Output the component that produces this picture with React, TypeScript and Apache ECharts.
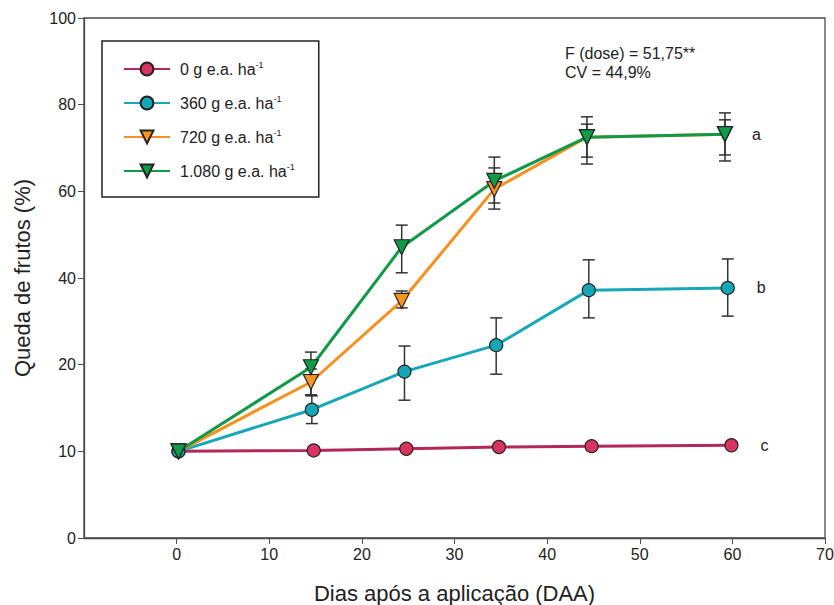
import React, { useEffect, useRef } from "react";
import * as echarts from "echarts";

// Y axis is broken: equally spaced ticks carrying these labels
const yTickLabels = [0, 10, 20, 40, 60, 80, 100];
const xTickValues = [0, 10, 20, 30, 40, 50, 60, 70];

const seriesNames = ["0 g e.a. ha-1", "360 g e.a. ha-1", "720 g e.a. ha-1", "1.080 g e.a. ha-1"];

// days after application (slightly offset per series as in the figure)
const days0 = [0.2, 14.8, 24.8, 34.8, 44.8, 59.9];
const days360 = [0.2, 14.6, 24.6, 34.5, 44.5, 59.5];
const days720 = [0.2, 14.5, 24.3, 34.3, 44.3, 59.2];
const days1080 = [0.2, 14.5, 24.3, 34.3, 44.3, 59.2];

// fruit drop (%)
const drop0 = [10.0, 10.1, 10.3, 10.5, 10.6, 10.7];
const drop360 = [10.0, 14.8, 19.2, 24.5, 37.2, 37.7];
const drop720 = [10.0, 18.0, 34.7, 60.5, 72.5, 73.2];
const drop1080 = [10.0, 19.7, 47.1, 62.4, 72.5, 73.2];

// error bar bounds (%)
const low360 = [10.0, 13.2, 15.9, 18.9, 30.8, 31.2];
const high360 = [10.0, 16.4, 24.3, 30.8, 44.2, 44.4];
const low720 = [10.0, 16.5, 33.1, 55.9, 67.9, 68.4];
const high720 = [10.0, 19.5, 37.0, 65.4, 75.5, 76.5];
const low1080 = [10.0, 16.5, 41.2, 57.3, 66.3, 67.0];
const high1080 = [10.0, 22.9, 52.2, 67.9, 77.2, 78.1];

const groupLetters = ["c", "b", "a"];

// map a percentage to the broken-axis position (piecewise linear between tick labels)
function toAxis(v: number): number {
  for (let i = 0; i < yTickLabels.length - 1; i++) {
    const a = yTickLabels[i];
    const b = yTickLabels[i + 1];
    if (v <= b || i === yTickLabels.length - 2) {
      return i + (v - a) / (b - a);
    }
  }
  return 0;
}

const FONT = "'Liberation Sans', Arial, Helvetica, sans-serif";
const INK = "#222";
const AXIS = "#4a4a4a";

export default function App() {
  const ref = useRef<HTMLDivElement>(null);

  useEffect(() => {
    document.body.style.margin = "0";
    if (!ref.current) return;
    const chart = echarts.init(ref.current, undefined, { renderer: "svg" });

    const mkLine = (
      name: string,
      days: number[],
      vals: number[],
      lineColor: string,
      fill: string,
      symbol: string,
      rotate: number,
      size: number,
      letter: string | null,
      letterGap: number
    ) => ({
      type: "line",
      name,
      data: days.map((d, i) => {
        const item: any = { value: [d, toAxis(vals[i])] };
        if (letter && i === days.length - 1) {
          item.label = {
            show: true,
            formatter: letter,
            position: "right",
            distance: letterGap,
            color: INK,
            fontSize: 16,
            fontFamily: FONT,
          };
        }
        return item;
      }),
      symbol,
      symbolRotate: rotate,
      symbolSize: size,
      lineStyle: { color: lineColor, width: 3 },
      itemStyle: { color: fill, borderColor: "#222", borderWidth: 1.2 },
      z: 3,
    });

    const errData: number[][] = [];
    const addErr = (days: number[], lo: number[], hi: number[]) => {
      days.forEach((d, i) => {
        if (hi[i] > lo[i]) errData.push([d, toAxis(lo[i]), toAxis(hi[i])]);
      });
    };
    addErr(days360, low360, high360);
    addErr(days720, low720, high720);
    addErr(days1080, low1080, high1080);

    const option: any = {
      animation: false,
      textStyle: { fontFamily: FONT },
      grid: {
        left: 84,
        top: 18,
        right: 9,
        bottom: 67,
        outerBoundsMode: "none",
        containLabel: false,
        show: true,
        borderColor: AXIS,
        borderWidth: 1.3,
      },
      legend: {
        orient: "vertical",
        left: 102,
        top: 41,
        padding: [19, 24, 18, 21],
        itemGap: 17,
        itemWidth: 46,
        itemHeight: 16,
        borderColor: INK,
        borderWidth: 1.5,
        data: seriesNames,
        formatter: (name: string) => `{t|${name.replace("-1", "")}}{s|-1}`,
        textStyle: {
          rich: {
            t: { fontSize: 16, fontFamily: FONT, color: INK, padding: [0, 0, 0, 5], lineHeight: 18 },
            s: { fontSize: 9, fontFamily: FONT, color: INK, verticalAlign: "top", lineHeight: 10 },
          },
        },
      },
      xAxis: {
        type: "value",
        min: -10,
        max: 70,
        interval: 10,
        name: "Dias após a aplicação (DAA)",
        nameLocation: "middle",
        nameGap: 44,
        nameTextStyle: { fontSize: 22, color: INK, fontFamily: FONT },
        axisLine: { show: true, onZero: false, lineStyle: { color: AXIS, width: 1.3 } },
        axisTick: { show: true, customValues: xTickValues, length: 6, lineStyle: { color: AXIS } },
        axisLabel: { customValues: xTickValues, fontSize: 16, color: INK, margin: 8, fontFamily: FONT },
        splitLine: { show: false },
      },
      yAxis: {
        type: "value",
        min: 0,
        max: yTickLabels.length - 1,
        interval: 1,
        name: "Queda de frutos (%)",
        nameLocation: "middle",
        nameGap: 51,
        nameTextStyle: { fontSize: 22, color: INK, fontFamily: FONT },
        axisLine: { show: true, onZero: false, lineStyle: { color: AXIS, width: 1.3 } },
        axisTick: { show: true, length: 6, lineStyle: { color: AXIS } },
        axisLabel: {
          fontSize: 16,
          color: INK,
          margin: 8,
          fontFamily: FONT,
          formatter: (v: number) => String(yTickLabels[Math.round(v)] ?? ""),
        },
        splitLine: { show: false },
      },
      graphic: [
        {
          type: "text",
          left: 565,
          top: 44,
          style: {
            text: "F (dose) = 51,75**\nCV = 44,9%",
            fontSize: 16,
            lineHeight: 19,
            fill: INK,
            fontFamily: FONT,
          },
        },
      ],
      series: [
        {
          type: "custom",
          name: "errors",
          z: 1,
          data: errData,
          renderItem: (params: any, api: any) => {
            const x = api.value(0);
            const p1 = api.coord([x, api.value(1)]);
            const p2 = api.coord([x, api.value(2)]);
            const w = 6;
            const style = { stroke: "#333", lineWidth: 1.5 };
            return {
              type: "group",
              children: [
                { type: "line", shape: { x1: p1[0], y1: p1[1], x2: p2[0], y2: p2[1] }, style },
                { type: "line", shape: { x1: p1[0] - w, y1: p1[1], x2: p1[0] + w, y2: p1[1] }, style },
                { type: "line", shape: { x1: p2[0] - w, y1: p2[1], x2: p2[0] + w, y2: p2[1] }, style },
              ],
            };
          },
        },
        mkLine(seriesNames[0], days0, drop0, "#b3285a", "#d8345f", "circle", 0, 13, groupLetters[0], 22),
        mkLine(seriesNames[1], days360, drop360, "#17a7b8", "#15a7b6", "circle", 0, 13, groupLetters[1], 22),
        mkLine(seriesNames[2], days720, drop720, "#f6901e", "#f7931f", "triangle", 180, 15, null, 0),
        mkLine(seriesNames[3], days1080, drop1080, "#109a48", "#0f9b48", "triangle", 180, 15, groupLetters[2], 19),
      ],
    };

    chart.setOption(option);
    return () => chart.dispose();
  }, []);

  return <div ref={ref} style={{ width: 834, height: 605 }} />;
}
